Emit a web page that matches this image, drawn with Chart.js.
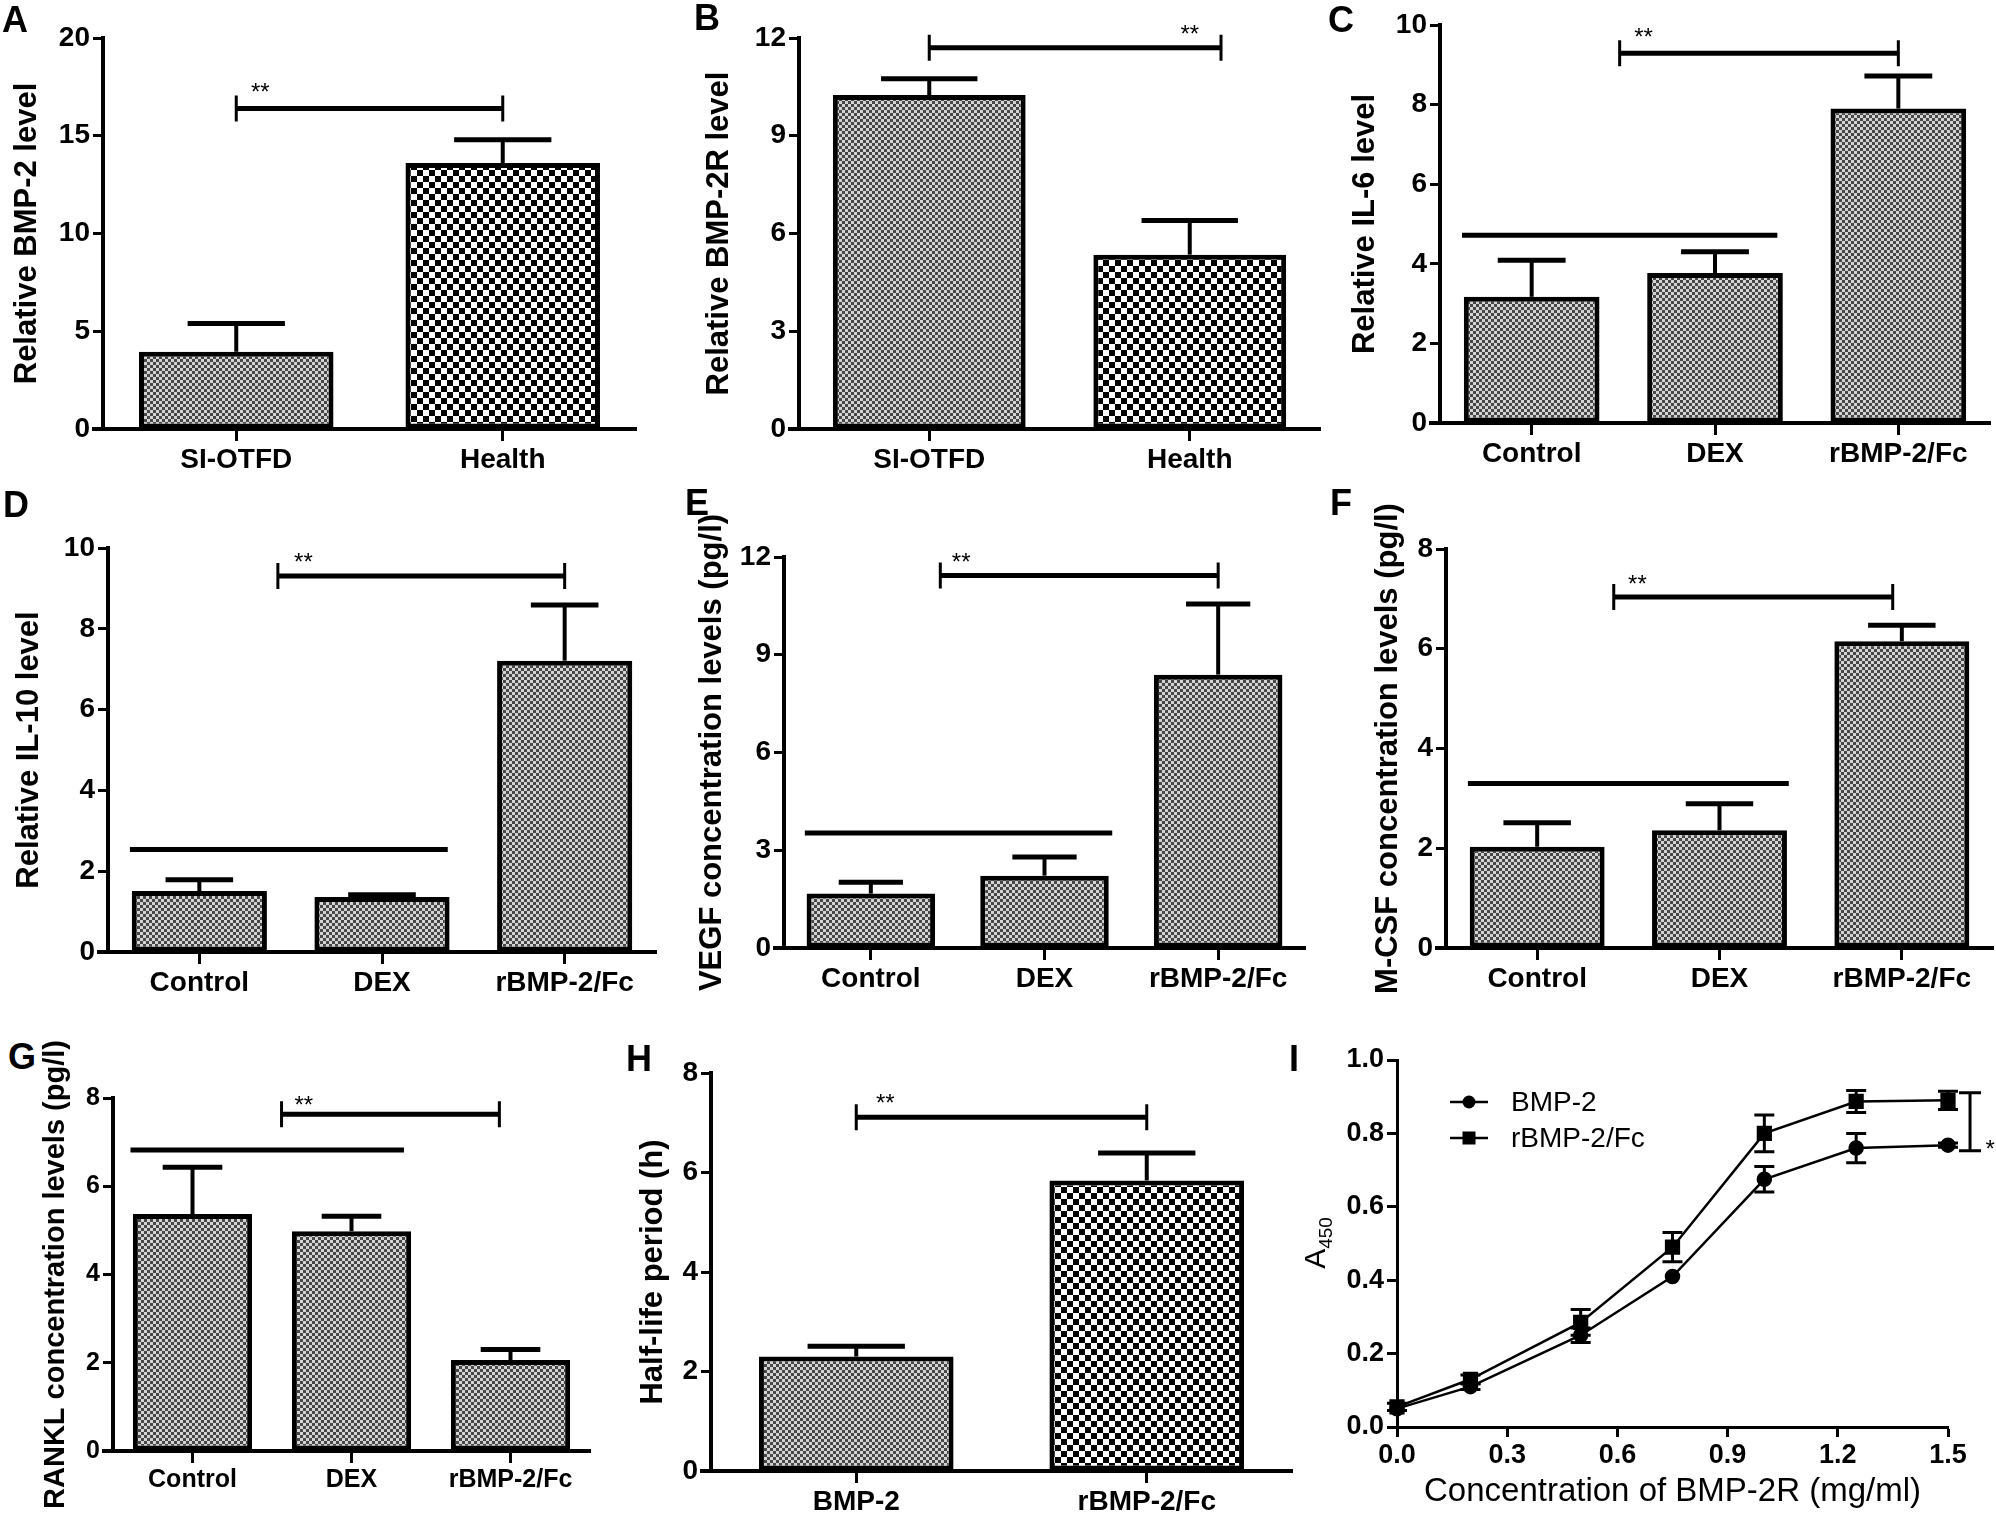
<!DOCTYPE html>
<html lang="en">
<head>
<meta charset="UTF-8">
<title>BMP-2 and rBMP-2/Fc panels</title>
<script src="https://cdn.jsdelivr.net/npm/chart.js"></script>
<style>
    html, body { margin: 0; padding: 0; background: #fff; }
    body {
        width: 1996px;
        height: 1513px;
        overflow: hidden;
        position: relative;
        font-family: 'Liberation Sans', Arial, sans-serif;
    }
    .panel { position: absolute; }
    .letter {
        position: absolute;
        font-weight: bold;
        font-size: 36px;
        line-height: 1;
        z-index: 5;
    }
    #a450 {
        position: absolute;
        left: 1317px;
        top: 1243px;
        transform: translate(-50%, -50%) rotate(-90deg);
        font-size: 30px;
        white-space: nowrap;
        z-index: 5;
    }
    #a450 sub { font-size: 19px; }
</style>
</head>
<body>
<div class="letter" style="left:2px;top:2px">A</div>
<div class="letter" style="left:694px;top:0px">B</div>
<div class="letter" style="left:1328px;top:2px">C</div>
<div class="letter" style="left:3px;top:487px">D</div>
<div class="letter" style="left:685px;top:485px">E</div>
<div class="letter" style="left:1330px;top:485px">F</div>
<div class="letter" style="left:8px;top:1039px">G</div>
<div class="letter" style="left:626px;top:1041px">H</div>
<div class="letter" style="left:1289px;top:1041px">I</div>

<div class="panel" id="boxA"><canvas id="chartA"></canvas></div>
<div class="panel" id="boxB"><canvas id="chartB"></canvas></div>
<div class="panel" id="boxC"><canvas id="chartC"></canvas></div>
<div class="panel" id="boxD"><canvas id="chartD"></canvas></div>
<div class="panel" id="boxE"><canvas id="chartE"></canvas></div>
<div class="panel" id="boxF"><canvas id="chartF"></canvas></div>
<div class="panel" id="boxG"><canvas id="chartG"></canvas></div>
<div class="panel" id="boxH"><canvas id="chartH"></canvas></div>
<div class="panel" id="boxI"><canvas id="chartI"></canvas></div>
<div id="a450">A<sub>450</sub></div>

<script>
    // categories
    const groupsAB = ['SI-OTFD', 'Health'];
    const groupsTreat = ['Control', 'DEX', 'rBMP-2/Fc'];
    const groupsH = ['BMP-2', 'rBMP-2/Fc'];

    // bar values (mean) and upper error (SD)
    const bmp2Level = [3.95, 13.6];
    const bmp2Err = [1.45, 1.2];
    const bmp2rLevel = [10.25, 5.35];
    const bmp2rErr = [0.5, 1.05];
    const il6Level = [3.17, 3.77, 7.9];
    const il6Err = [0.92, 0.53, 0.82];
    const il10Level = [1.51, 1.36, 7.21];
    const il10Err = [0.28, 0.06, 1.38];
    const vegfLevel = [1.67, 2.22, 8.39];
    const vegfErr = [0.35, 0.57, 2.17];
    const mcsfLevel = [2.03, 2.36, 6.15];
    const mcsfErr = [0.48, 0.53, 0.32];
    const ranklLevel = [5.37, 4.98, 2.06];
    const ranklErr = [1.06, 0.34, 0.24];
    const halfLife = [2.3, 5.84];
    const halfLifeErr = [0.21, 0.55];

    // panel I
    const concX = [0, 0.2, 0.5, 0.75, 1.0, 1.25, 1.5];
    const a450Bmp2 = [0.05, 0.11, 0.25, 0.41, 0.675, 0.76, 0.768];
    const a450Bmp2Err = [0.005, 0.008, 0.02, 0.005, 0.035, 0.04, 0.006];
    const a450Fc = [0.055, 0.13, 0.285, 0.49, 0.80, 0.887, 0.89];
    const a450FcErr = [0.01, 0.012, 0.035, 0.04, 0.05, 0.03, 0.025];

    const FONT = "'Liberation Sans', Arial, sans-serif";
    Chart.defaults.font.family = FONT;
    Chart.defaults.color = '#000';

    function makePattern(kind) {
        const c = document.createElement('canvas');
        const g = c.getContext('2d');
        if (kind === 'fine') {
            c.width = 6; c.height = 6;
            g.fillStyle = '#d4d4d4';
            g.fillRect(0, 0, 6, 6);
            g.fillStyle = '#474747';
            g.fillRect(0, 0, 3, 3);
            g.fillRect(3, 3, 3, 3);
        } else {
            c.width = 12; c.height = 12;
            g.fillStyle = '#fff';
            g.fillRect(0, 0, 12, 12);
            g.fillStyle = '#000';
            g.fillRect(0, 0, 6, 6);
            g.fillRect(6, 6, 6, 6);
        }
        return g.createPattern(c, 'repeat');
    }
    const fine = makePattern('fine');
    const coarse = makePattern('coarse');

    const panelExtras = {};

    const extrasPlugin = {
        id: 'extras',
        afterDatasetsDraw(chart) {
            const ex = panelExtras[chart.canvas.id];
            if (!ex) return;
            const ctx = chart.ctx;
            const xs = chart.scales.x;
            const ys = chart.scales.y;
            const area = chart.chartArea;
            ctx.save();
            ctx.strokeStyle = '#000';
            ctx.fillStyle = '#000';
            // short stub of the x axis left of the y axis
            ctx.lineWidth = 4;
            ctx.beginPath();
            ctx.moveTo(area.left - 11, area.bottom);
            ctx.lineTo(area.left, area.bottom);
            ctx.stroke();
            if (ex.errs) {
                const meta = chart.getDatasetMeta(0);
                meta.data.forEach((bar, i) => {
                    const v = chart.data.datasets[0].data[i];
                    const top = ys.getPixelForValue(v + ex.errs[i]);
                    const half = bar.width * 0.25;
                    ctx.lineWidth = 4;
                    ctx.beginPath();
                    ctx.moveTo(bar.x, bar.y);
                    ctx.lineTo(bar.x, top);
                    ctx.stroke();
                    ctx.lineWidth = 5;
                    ctx.beginPath();
                    ctx.moveTo(bar.x - half, top);
                    ctx.lineTo(bar.x + half, top);
                    ctx.stroke();
                });
            }
            (ex.lines || []).forEach(l => {
                const py = ys.getPixelForValue(l.y);
                ctx.lineWidth = 5;
                ctx.beginPath();
                ctx.moveTo(xs.getPixelForValue(l.x0), py);
                ctx.lineTo(xs.getPixelForValue(l.x1), py);
                ctx.stroke();
            });
            (ex.brackets || []).forEach(b => {
                const py = ys.getPixelForValue(b.y);
                const p0 = xs.getPixelForValue(b.x0);
                const p1 = xs.getPixelForValue(b.x1);
                ctx.lineWidth = 5;
                ctx.beginPath();
                ctx.moveTo(p0, py);
                ctx.lineTo(p1, py);
                ctx.stroke();
                ctx.lineWidth = 3;
                ctx.beginPath();
                ctx.moveTo(p0, py - 13);
                ctx.lineTo(p0, py + 13);
                ctx.moveTo(p1, py - 13);
                ctx.lineTo(p1, py + 13);
                ctx.stroke();
            });
            (ex.stars || []).forEach(s => {
                ctx.font = '24px ' + FONT;
                ctx.textAlign = 'center';
                ctx.textBaseline = 'middle';
                ctx.fillText(s.text, xs.getPixelForValue(s.x), ys.getPixelForValue(s.y) + 6);
            });
            ctx.restore();
        }
    };

    function place(boxId, box) {
        const el = document.getElementById(boxId);
        el.style.left = box.left + 'px';
        el.style.top = box.top + 'px';
        el.style.width = box.width + 'px';
        el.style.height = box.height + 'px';
    }

    function axisGrid(len) {
        return {
            display: true,
            drawOnChartArea: false,
            offset: false,
            tickLength: len,
            tickWidth: 3,
            tickColor: '#000'
        };
    }

    function barPanel(id, box, cats, vals, errs, fills, yMax, yStep, yTitle, barPct, fonts, extras) {
        place('box' + id, box);
        extras.errs = errs;
        panelExtras['chart' + id] = extras;
        new Chart(document.getElementById('chart' + id), {
            type: 'bar',
            data: {
                labels: cats,
                datasets: [{
                    data: vals,
                    backgroundColor: fills,
                    borderColor: '#000',
                    borderWidth: 5,
                    borderSkipped: false,
                    barPercentage: barPct,
                    categoryPercentage: 1
                }]
            },
            options: {
                responsive: true,
                maintainAspectRatio: false,
                animation: false,
                layout: { padding: { top: box.padT, right: box.padR, left: 0, bottom: 0 } },
                plugins: { legend: { display: false }, tooltip: { enabled: false } },
                scales: {
                    x: {
                        grid: axisGrid(12),
                        border: { display: true, color: '#000', width: 4 },
                        ticks: {
                            font: { size: fonts.cat, weight: 'bold' },
                            padding: 2,
                            maxRotation: 0,
                            autoSkip: false
                        },
                        afterFit: s => { s.height = box.xH; }
                    },
                    y: {
                        min: 0,
                        max: yMax,
                        grid: axisGrid(10),
                        border: { display: true, color: '#000', width: 4 },
                        ticks: {
                            stepSize: yStep,
                            font: { size: fonts.tick, weight: 'bold' },
                            padding: 3
                        },
                        title: {
                            display: true,
                            text: yTitle,
                            font: { size: fonts.title, weight: 'bold' },
                            padding: 0
                        },
                        afterFit: s => { s.width = box.yW; }
                    }
                }
            },
            plugins: [extrasPlugin]
        });
    }

    const big = { tick: 28, cat: 28, title: 31 };
    const small = { tick: 25, cat: 25, title: 29 };

    barPanel('A', { left: 9, top: 14, width: 635, height: 475, yW: 94, xH: 60, padT: 24, padR: 8 },
        groupsAB, bmp2Level, bmp2Err, [fine, coarse], 20, 5, 'Relative BMP-2 level', 0.73, big,
        { brackets: [{ x0: 0, x1: 1, y: 16.4 }], stars: [{ x: 0.09, y: 17.5, text: '**' }] });

    barPanel('B', { left: 701, top: 14, width: 625, height: 475, yW: 98, xH: 60, padT: 24, padR: 6 },
        groupsAB, bmp2rLevel, bmp2rErr, [fine, coarse], 12, 3, 'Relative BMP-2R level', 0.74, big,
        { brackets: [{ x0: 0, x1: 1.12, y: 11.7 }], stars: [{ x: 1.0, y: 12.25, text: '**' }] });

    barPanel('C', { left: 1347, top: 1, width: 648, height: 482, yW: 93, xH: 60, padT: 24, padR: 5 },
        groupsTreat, il6Level, il6Err, [fine, fine, fine], 10, 2, 'Relative IL-6 level', 0.74, big,
        { brackets: [{ x0: 0.48, x1: 2.0, y: 9.29 }], stars: [{ x: 0.61, y: 9.82, text: '**' }],
          lines: [{ x0: -0.38, x1: 1.34, y: 4.72 }] });

    barPanel('D', { left: 11, top: 524, width: 653, height: 488, yW: 97, xH: 60, padT: 24, padR: 8 },
        groupsTreat, il10Level, il10Err, [fine, fine, fine], 10, 2, 'Relative IL-10 level', 0.74, big,
        { brackets: [{ x0: 0.43, x1: 2.0, y: 9.31 }], stars: [{ x: 0.57, y: 9.78, text: '**' }],
          lines: [{ x0: -0.38, x1: 1.36, y: 2.54 }] });

    barPanel('E', { left: 694, top: 509, width: 619, height: 499, yW: 90, xH: 60, padT: 48, padR: 8 },
        groupsTreat, vegfLevel, vegfErr, [fine, fine, fine], 12, 3, 'VEGF concentration levels (pg/l)', 0.74, big,
        { brackets: [{ x0: 0.40, x1: 2.0, y: 11.43 }], stars: [{ x: 0.52, y: 12.0, text: '**' }],
          lines: [{ x0: -0.38, x1: 1.39, y: 3.53 }] });

    barPanel('F', { left: 1370, top: 499, width: 626, height: 509, yW: 76, xH: 60, padT: 50, padR: 3 },
        groupsTreat, mcsfLevel, mcsfErr, [fine, fine, fine], 8, 2, 'M-CSF concentration levels (pg/l)', 0.74, big,
        { brackets: [{ x0: 0.42, x1: 1.95, y: 7.04 }], stars: [{ x: 0.55, y: 7.39, text: '**' }],
          lines: [{ x0: -0.38, x1: 1.38, y: 3.30 }] });

    barPanel('G', { left: 39, top: 1036, width: 559, height: 475, yW: 74, xH: 60, padT: 62, padR: 8 },
        groupsTreat, ranklLevel, ranklErr, [fine, fine, fine], 8, 2, 'RANKL concentration levels (pg/l)', 0.75, small,
        { brackets: [{ x0: 0.56, x1: 1.93, y: 7.63 }], stars: [{ x: 0.70, y: 7.95, text: '**' }],
          lines: [{ x0: -0.39, x1: 1.33, y: 6.82 }] });

    barPanel('H', { left: 635, top: 1049, width: 665, height: 472, yW: 76, xH: 50, padT: 24, padR: 8 },
        groupsH, halfLife, halfLifeErr, [fine, coarse], 8, 2, 'Half-life period (h)', 0.67, big,
        { brackets: [{ x0: 0, x1: 1, y: 7.11 }], stars: [{ x: 0.10, y: 7.5, text: '**' }] });

    // panel I: line chart with error bars
    const boxI = { left: 1330, top: 1036, width: 666, height: 476, yW: 67, xH: 85, padR: 48 };
    place('boxI', boxI);
    const errsI = [a450Bmp2Err, a450FcErr];

    const linePlugin = {
        id: 'lineExtras',
        afterDatasetsDraw(chart) {
            const ctx = chart.ctx;
            const xs = chart.scales.x;
            const ys = chart.scales.y;
            const area = chart.chartArea;
            ctx.save();
            ctx.strokeStyle = '#000';
            ctx.fillStyle = '#000';
            chart.data.datasets.forEach((ds, d) => {
                ds.data.forEach((p, i) => {
                    const e = errsI[d][i];
                    const px = xs.getPixelForValue(p.x);
                    const hi = ys.getPixelForValue(p.y + e);
                    const lo = ys.getPixelForValue(p.y - e);
                    if (lo - hi < 4) return;
                    ctx.lineWidth = 3;
                    ctx.beginPath();
                    ctx.moveTo(px, hi);
                    ctx.lineTo(px, lo);
                    ctx.moveTo(px - 10, hi);
                    ctx.lineTo(px + 10, hi);
                    ctx.moveTo(px - 10, lo);
                    ctx.lineTo(px + 10, lo);
                    ctx.stroke();
                });
            });
            // significance bracket at the right end
            const bx = xs.getPixelForValue(1.56);
            const b0 = ys.getPixelForValue(0.753);
            const b1 = ys.getPixelForValue(0.911);
            ctx.lineWidth = 3;
            ctx.beginPath();
            ctx.moveTo(bx, b0);
            ctx.lineTo(bx, b1);
            ctx.moveTo(bx - 11, b0);
            ctx.lineTo(bx + 11, b0);
            ctx.moveTo(bx - 11, b1);
            ctx.lineTo(bx + 11, b1);
            ctx.stroke();
            ctx.font = '24px ' + FONT;
            ctx.textAlign = 'center';
            ctx.textBaseline = 'middle';
            ctx.fillText('*', xs.getPixelForValue(1.615), ys.getPixelForValue(0.77) + 6);
            // legend
            chart.data.datasets.forEach((ds, d) => {
                const ly = area.top + 42 + d * 36;
                const lx = area.left + 72;
                ctx.lineWidth = 2.5;
                ctx.beginPath();
                ctx.moveTo(area.left + 53, ly);
                ctx.lineTo(area.left + 91, ly);
                ctx.stroke();
                ctx.beginPath();
                if (ds.pointStyle === 'circle') {
                    ctx.arc(lx, ly, 6.5, 0, Math.PI * 2);
                } else {
                    ctx.rect(lx - 6.5, ly - 6.5, 13, 13);
                }
                ctx.fill();
                ctx.font = '28px ' + FONT;
                ctx.textAlign = 'left';
                ctx.fillText(ds.label, area.left + 114, ly + 1);
            });
            ctx.restore();
        }
    };

    new Chart(document.getElementById('chartI'), {
        type: 'scatter',
        data: {
            datasets: [
                {
                    label: 'BMP-2',
                    data: concX.map((x, i) => ({ x: x, y: a450Bmp2[i] })),
                    showLine: true,
                    borderColor: '#000',
                    borderWidth: 2.5,
                    pointStyle: 'circle',
                    pointRadius: 6.5,
                    pointBackgroundColor: '#000',
                    pointBorderColor: '#000',
                    clip: false
                },
                {
                    label: 'rBMP-2/Fc',
                    data: concX.map((x, i) => ({ x: x, y: a450Fc[i] })),
                    showLine: true,
                    borderColor: '#000',
                    borderWidth: 2.5,
                    pointStyle: 'rect',
                    pointRadius: 9,
                    pointBackgroundColor: '#000',
                    pointBorderColor: '#000',
                    clip: false
                }
            ]
        },
        options: {
            responsive: true,
            maintainAspectRatio: false,
            animation: false,
            layout: { padding: { top: 24, right: boxI.padR, left: 0, bottom: 0 } },
            plugins: { legend: { display: false }, tooltip: { enabled: false } },
            scales: {
                x: {
                    type: 'linear',
                    min: 0,
                    max: 1.5,
                    grid: axisGrid(10),
                    border: { display: true, color: '#000', width: 3 },
                    ticks: {
                        stepSize: 0.3,
                        font: { size: 27, weight: 'bold' },
                        padding: 2,
                        maxRotation: 0,
                        callback: v => Number(v).toFixed(1)
                    },
                    title: {
                        display: true,
                        text: 'Concentration of BMP-2R (mg/ml)',
                        font: { size: 33 },
                        padding: 0
                    },
                    afterFit: s => { s.height = boxI.xH; }
                },
                y: {
                    min: 0,
                    max: 1.0,
                    grid: axisGrid(10),
                    border: { display: true, color: '#000', width: 3 },
                    ticks: {
                        stepSize: 0.2,
                        font: { size: 27, weight: 'bold' },
                        padding: 3,
                        callback: v => Number(v).toFixed(1)
                    },
                    afterFit: s => { s.width = boxI.yW; }
                }
            }
        },
        plugins: [linePlugin]
    });
</script>
</body>
</html>
